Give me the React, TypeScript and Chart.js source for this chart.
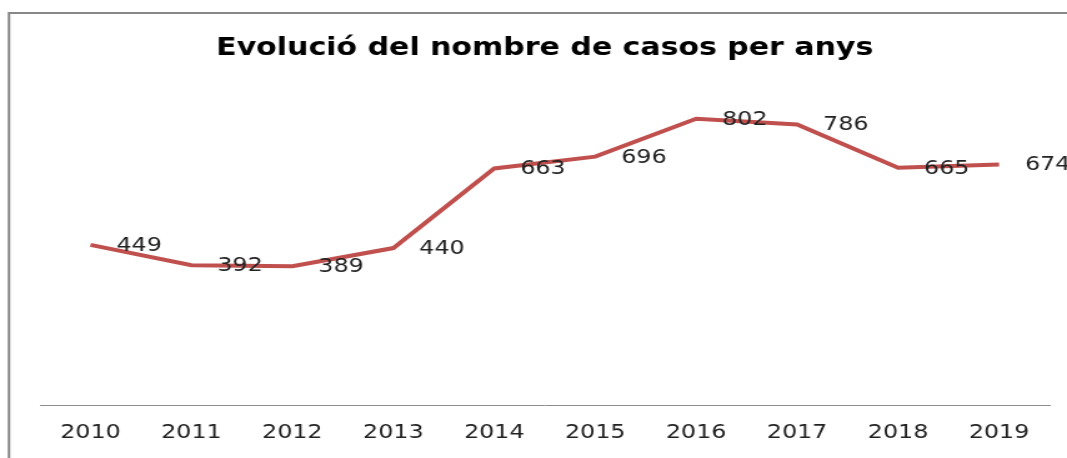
import React, { useEffect, useRef } from "react";
import { Chart, registerables } from "chart.js";

Chart.register(...registerables);

const TITLE = "Evolució del nombre de casos per anys";
const YEARS = ["2010", "2011", "2012", "2013", "2014", "2015", "2016", "2017", "2018", "2019"];
const CASES = [449, 392, 389, 440, 663, 696, 802, 786, 665, 674];

const LINE_COLOR = "#C0504D";
const FONT = "'DejaVu Sans', sans-serif";

// The reference picture is horizontally stretched; render narrower and stretch with CSS.
const STRETCH = 1.25;
const VIEW_W = 1067;
const VIEW_H = 458;
const CANVAS_W = Math.round(VIEW_W / STRETCH);

const framePlugin = {
  id: "frame",
  beforeDraw(chart: any) {
    const ctx = chart.ctx;
    ctx.save();
    ctx.fillStyle = "#ffffff";
    ctx.fillRect(0, 0, chart.width, chart.height);
    ctx.strokeStyle = "#888888";
    ctx.lineWidth = 2;
    ctx.beginPath();
    ctx.moveTo(9 / STRETCH, chart.height + 5);
    ctx.lineTo(9 / STRETCH, 13);
    ctx.lineTo(chart.width + 5, 13);
    ctx.stroke();
    ctx.restore();
  },
};

const labelPlugin = {
  id: "pointLabels",
  afterDatasetsDraw(chart: any) {
    const ctx = chart.ctx;
    const meta = chart.getDatasetMeta(0);
    const data = chart.data.datasets[0].data;
    ctx.save();
    ctx.font = `19px ${FONT}`;
    ctx.fillStyle = "#222222";
    ctx.textAlign = "left";
    ctx.textBaseline = "middle";
    meta.data.forEach((pt: any, i: number) => {
      ctx.fillText(String(data[i]), pt.x + 26 / STRETCH, pt.y + 1);
    });
    ctx.restore();
  },
};

export default function App() {
  const ref = useRef<HTMLCanvasElement | null>(null);

  useEffect(() => {
    if (!ref.current) return;
    const chart = new Chart(ref.current, {
      type: "line",
      data: {
        labels: YEARS,
        datasets: [
          {
            data: CASES,
            borderColor: LINE_COLOR,
            borderWidth: 4,
            pointRadius: 0,
            tension: 0,
            fill: false,
          },
        ],
      },
      options: {
        responsive: false,
        animation: false,
        devicePixelRatio: 1,
        layout: {
          padding: {
            left: Math.round(40 / STRETCH),
            right: CANVAS_W - Math.round(1050 / STRETCH),
            top: 0,
            bottom: 6,
          },
        },
        plugins: {
          legend: { display: false },
          tooltip: { enabled: false },
          title: {
            display: true,
            text: TITLE,
            color: "#000000",
            font: { family: FONT, size: 24, weight: "bold", lineHeight: 1.2 },
            padding: { top: 34, bottom: 21 },
          },
        },
        scales: {
          x: {
            offset: true,
            grid: { display: false },
            border: { display: true, color: "#8c8c8c", width: 1 },
            ticks: {
              color: "#222222",
              font: { family: FONT, size: 19, lineHeight: 1.2 },
              padding: 8,
              maxRotation: 0,
              autoSkip: false,
            },
          },
          y: {
            display: false,
            min: 0,
            max: 900,
          },
        },
      },
      plugins: [framePlugin, labelPlugin],
    });
    return () => chart.destroy();
  }, []);

  return (
    <canvas
      ref={ref}
      width={CANVAS_W}
      height={VIEW_H}
      style={{
        position: "absolute",
        left: 0,
        top: 0,
        display: "block",
        width: `${VIEW_W}px`,
        height: `${VIEW_H}px`,
      }}
    />
  );
}
